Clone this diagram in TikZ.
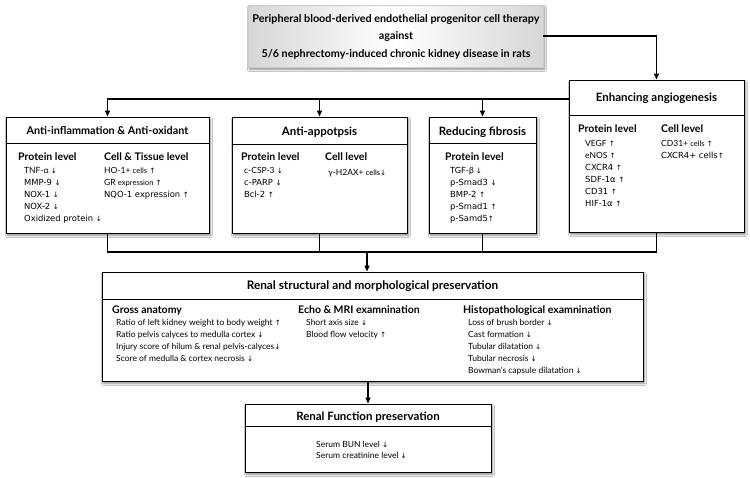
\documentclass[tikz,border=0pt]{standalone}
\usepackage{fontspec}
\setmainfont{Lato}
\newfontfamily\luc{DejaVu Sans}
\newfontfamily\arrf{DejaVu Sans}
\usetikzlibrary{arrows.meta,shadows.blur}
\newcommand\uarr{{\arrf\fontsize{7.3}{8}\selectfont ↑}}
\newcommand\darr{{\arrf\fontsize{7.3}{8}\selectfont ↓}}
\newcommand\lu{\luc\fontsize{8.4}{9}\selectfont}
\newcommand\sm{\fontsize{7.6}{9}\selectfont}
\tikzset{
  box/.style={draw, line width=0.9pt, fill=white, inner sep=0pt,
    blur shadow={shadow xshift=1.5pt, shadow yshift=-2.5pt, shadow blur steps=5, shadow opacity=45}},
  sep/.style={line width=0.9pt},
  conn/.style={line width=1.3pt, line join=miter},
  arr/.style={conn, -{Triangle[length=6pt,width=5pt]}},
  ttl/.style={font=\fontsize{11.5}{13}\selectfont\bfseries, anchor=base, inner sep=0pt},
  toptxt/.style={font=\fontsize{10.8}{12}\selectfont\bfseries, anchor=base, inner sep=0pt},
  hd/.style={font=\fontsize{10.5}{12}\selectfont\bfseries, anchor=base west, inner sep=0pt},
  it/.style={font=\fontsize{8.5}{10}\selectfont, anchor=base west, inner sep=0pt},
}
\begin{document}
\begin{tikzpicture}[x=1pt,y=-1pt]
\useasboundingbox[fill=white] (0,0) rectangle (750,477);

% top box
\node[inner sep=0pt, minimum width=295pt, minimum height=62pt, draw=gray!40,
  left color=gray!32, right color=gray!32, middle color=white,
  blur shadow={shadow xshift=1.5pt, shadow yshift=-2.5pt, shadow blur steps=5, shadow opacity=45}] (top) at (395.5,36) {};
\node[toptxt] (t1) at (396,22) {Peripheral blood-derived endothelial progenitor cell therapy};
\node[toptxt] (t2) at (396,39.5) {against};
\node[toptxt] (t3) at (396,57) {5/6 nephrectomy-induced chronic kidney disease in rats};

% boxes
\node[box, minimum width=203pt, minimum height=116pt] (ai) at (107.5,175) {};
\node[box, minimum width=175pt, minimum height=116pt] (ap) at (319.5,175) {};
\node[box, minimum width=107pt, minimum height=116pt] (fb) at (482.5,175) {};
\node[box, minimum width=175pt, minimum height=152pt] (an) at (656.5,156) {};
\node[box, minimum width=541pt, minimum height=109pt] (rs) at (372.5,326.5) {};
\node[box, minimum width=246pt, minimum height=68pt] (rf) at (368,438) {};

% separators
\draw[sep] (ai.west |- 0,143) -- (ai.east |- 0,143);
\draw[sep] (ap.west |- 0,144) -- (ap.east |- 0,144);
\draw[sep] (fb.west |- 0,143) -- (fb.east |- 0,143);
\draw[sep] (an.west |- 0,115) -- (an.east |- 0,115);
\draw[sep] (rs.west |- 0,299) -- (rs.east |- 0,299);
\draw[sep] (rf.west |- 0,426) -- (rf.east |- 0,426);

% titles
\node[ttl, font=\fontsize{10.8}{13}\selectfont\bfseries] (aiT) at (107.5,134.5) {Anti-inflammation \& Anti-oxidant};
\node[ttl] (apT) at (319.5,135.5) {Anti-appotpsis};
\node[ttl] (fbT) at (482.5,135.5) {Reducing fibrosis};
\node[ttl] (anT) at (656.5,101.5) {Enhancing angiogenesis};
\node[ttl, font=\fontsize{11.8}{13}\selectfont\bfseries] (rsT) at (372.5,289.5) {Renal structural and morphological preservation};
\node[ttl] (rfT) at (368,420.5) {Renal Function preservation};

% anti-inflammation
\node[hd] (aiH1) at (18,160) {Protein level};
\node[hd] (aiH2) at (104,160) {Cell \& Tissue level};
\foreach \t [count=\i] in {{TNF-α \darr},{\lu MMP-9 \darr},{\lu NOX-1 \darr},{\lu NOX-2 \darr},{\lu Oxidized protein \darr}}
  \node[it] (aip\i) at (24,161+12*\i) {\t};
\foreach \t [count=\i] in {{HO-1+ {\sm cells} \uarr},{GR {\sm expression} \uarr},{\lu NQO-1 expression \uarr}}
  \node[it] (aic\i) at (104,161+12*\i) {\t};

% anti-apoptosis
\node[hd] (apH1) at (241,160) {Protein level};
\node[hd] (apH2) at (325,160) {Cell level};
\foreach \t [count=\i] in {{c-CSP-3 \darr},{\lu c-PARP \darr},{\lu Bcl-2 \uarr}}
  \node[it] (app\i) at (244,161+12*\i) {\t};
\node[it] (apc1) at (328,175) {γ-H2AX+ {\sm cells}\darr};

% fibrosis
\node[hd] (fbH1) at (445,160) {Protein level};
\foreach \t [count=\i] in {{TGF-β \darr},{\lu p-Smad3 \darr},{\lu BMP-2 \uarr},{\lu p-Smad1 \uarr},{\lu p-Samd5\uarr}}
  \node[it] (fbp\i) at (450,161+12*\i) {\t};

% angiogenesis
\node[hd] (anH1) at (578,132) {Protein level};
\node[hd] (anH2) at (661,132) {Cell level};
\foreach \t [count=\i] in {{VEGF \uarr},{eNOS \uarr},{\lu CXCR4 \uarr},{\lu SDF-1α \uarr},{\lu CD31 \uarr},{\lu HIF-1α \uarr}}
  \node[it] (anp\i) at (585,134+12*\i) {\t};
\foreach \t [count=\i] in {{CD31+ {\sm cells} \uarr},{\lu CXCR4+ cells\uarr}}
  \node[it] (anc\i) at (661,134+12*\i) {\t};

% renal structural
\node[hd] (rsH1) at (112,313) {Gross anatomy};
\node[hd] (rsH2) at (298,313) {Echo \& MRI examnination};
\node[hd] (rsH3) at (463,313) {Histopathological examnination};
\foreach \t [count=\i] in {{Ratio of left kidney weight to body weight \uarr},{Ratio pelvis calyces to medulla cortex \darr},{Injury score of hilum \& renal pelvis-calyces\darr},{Score of medulla \& cortex necrosis \darr}}
  \node[it] (rsg\i) at (116,313+12*\i) {\t};
\foreach \t [count=\i] in {{Short axis size \darr},{Blood flow velocity \uarr}}
  \node[it] (rse\i) at (306,313+12*\i) {\t};
\foreach \t [count=\i] in {{Loss of brush border \darr},{Cast formation \darr},{Tubular dilatation \darr},{Tubular necrosis \darr},{Bowman's capsule dilatation \darr}}
  \node[it] (rsh\i) at (468,313+12*\i) {\t};

% renal function
\node[it] (rf1) at (316,447) {Serum BUN level \darr};
\node[it] (rf2) at (316,458) {Serum creatinine level \darr};

% connectors
\draw[arr] (top.east) -| (an.north);
\coordinate (b1) at (an.west |- 0,99);
\draw[arr] (b1) -| (ai.north);
\draw[arr] (ap.north |- b1) -- (ap.north);
\draw[arr] (fb.north |- b1) -- (fb.north);
\coordinate (b2) at (0,252);
\draw[conn] (ai.south) -- (ai.south |- b2) -- (an.south |- b2) -- (an.south);
\draw[conn] (ap.south) -- (ap.south |- b2);
\draw[conn] (fb.south) -- (fb.south |- b2);
\coordinate (b3) at (367,252);
\draw[arr] (b3) -- (b3 |- rs.north);
\draw[arr] (rf.north |- rs.south) -- (rf.north);
\end{tikzpicture}
\end{document}
